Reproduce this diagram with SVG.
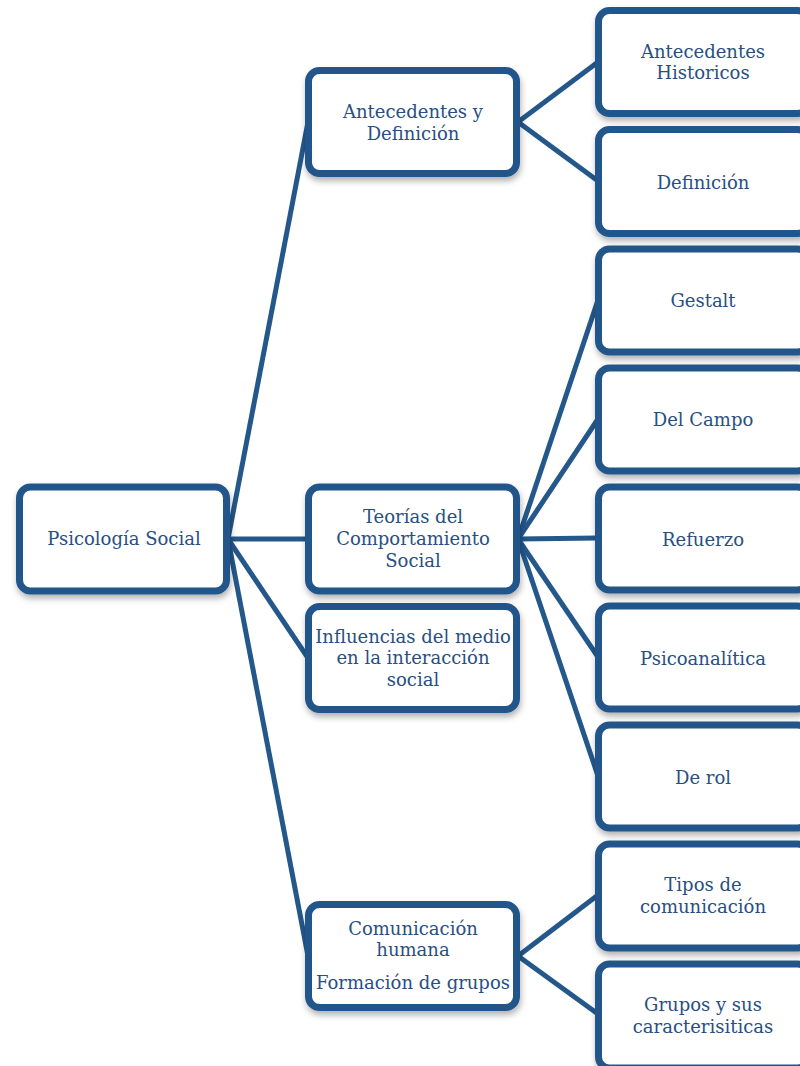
<svg xmlns="http://www.w3.org/2000/svg" width="800" height="1066" viewBox="0 0 800 1066">
<style>
.box{fill:#ffffff;stroke:#24578a;stroke-width:7;filter:url(#sh)}
.lnk{stroke:#24578a;stroke-width:5;fill:none}
text{font-family:"DejaVu Serif","Liberation Serif",serif;font-size:18px;fill:#284f82;text-anchor:middle}
</style>
<defs>
<filter id="sh" x="-10%" y="-10%" width="125%" height="130%">
<feDropShadow dx="1" dy="4" stdDeviation="3" flood-color="#000" flood-opacity="0.3"/>
</filter>
</defs>
<rect width="800" height="1066" fill="#ffffff"/>
<g id="connectors">
<line class="lnk" x1="228" y1="539" x2="308" y2="122"/>
<line class="lnk" x1="228" y1="539" x2="308" y2="539"/>
<line class="lnk" x1="228" y1="539" x2="308" y2="658"/>
<line class="lnk" x1="228" y1="539" x2="308" y2="956"/>
<line class="lnk" x1="518" y1="122" x2="598" y2="62"/>
<line class="lnk" x1="518" y1="122" x2="598" y2="181"/>
<line class="lnk" x1="518" y1="539" x2="598" y2="300"/>
<line class="lnk" x1="518" y1="539" x2="598" y2="419"/>
<line class="lnk" x1="518" y1="539" x2="598" y2="538"/>
<line class="lnk" x1="518" y1="539" x2="598" y2="657"/>
<line class="lnk" x1="518" y1="539" x2="598" y2="776"/>
<line class="lnk" x1="518" y1="956" x2="598" y2="895"/>
<line class="lnk" x1="518" y1="956" x2="598" y2="1014"/>
</g>
<g id="n-root"><rect class="box" x="19.5" y="487" width="207" height="104" rx="11"/><text x="124" y="545">Psicología Social</text></g>
<g id="n-antdef"><rect class="box" x="308.5" y="70.5" width="208" height="103" rx="11"/><text x="413" y="118">Antecedentes y</text><text x="413" y="140">Definición</text></g>
<g id="n-teorias"><rect class="box" x="308.5" y="487" width="208" height="104" rx="11"/><text x="413" y="523">Teorías del</text><text x="413" y="545">Comportamiento</text><text x="413" y="567">Social</text></g>
<g id="n-influencias"><rect class="box" x="308.5" y="606.5" width="208" height="103" rx="11"/><text x="413" y="643">Influencias del medio</text><text x="413" y="664">en la interacción</text><text x="413" y="686">social</text></g>
<g id="n-comunicacion"><rect class="box" x="308.5" y="904.5" width="208" height="103" rx="11"/><text x="413" y="935">Comunicación</text><text x="413" y="956">humana</text><text x="413" y="989">Formación de grupos</text></g>
<g id="n-anthist"><rect class="box" x="598.5" y="10.5" width="210" height="103" rx="11"/><text x="703" y="58">Antecedentes</text><text x="703" y="79">Historicos</text></g>
<g id="n-definicion"><rect class="box" x="598.5" y="129.5" width="210" height="104" rx="11"/><text x="703" y="189">Definición</text></g>
<g id="n-gestalt"><rect class="box" x="598.5" y="249" width="210" height="103" rx="11"/><text x="703" y="307">Gestalt</text></g>
<g id="n-campo"><rect class="box" x="598.5" y="368" width="210" height="103" rx="11"/><text x="703" y="426">Del Campo</text></g>
<g id="n-refuerzo"><rect class="box" x="598.5" y="487" width="210" height="103" rx="11"/><text x="703" y="546">Refuerzo</text></g>
<g id="n-psico"><rect class="box" x="598.5" y="606" width="210" height="103" rx="11"/><text x="703" y="665">Psicoanalítica</text></g>
<g id="n-rol"><rect class="box" x="598.5" y="725" width="210" height="103" rx="11"/><text x="703" y="784">De rol</text></g>
<g id="n-tipos"><rect class="box" x="598.5" y="844" width="210" height="104" rx="11"/><text x="703" y="891">Tipos de</text><text x="703" y="913">comunicación</text></g>
<g id="n-grupos"><rect class="box" x="598.5" y="964" width="210" height="104" rx="11"/><text x="703" y="1011">Grupos y sus</text><text x="703" y="1033">caracterisiticas</text></g>
</svg>
